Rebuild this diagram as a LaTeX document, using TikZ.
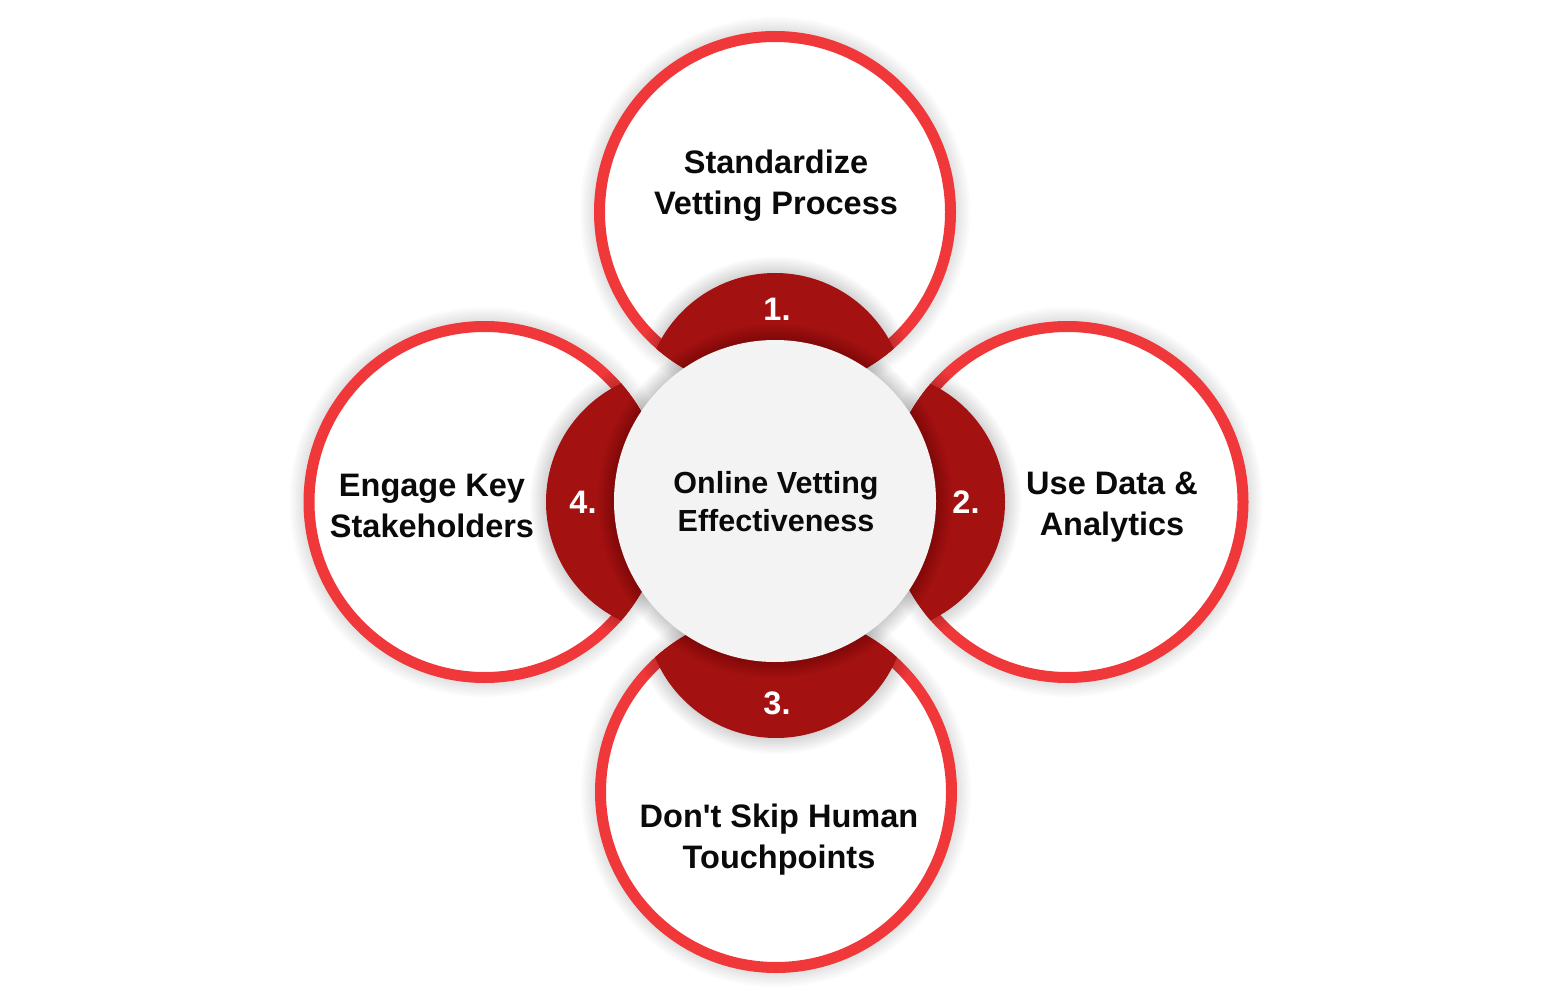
\documentclass[tikz,border=0pt]{standalone}
\usepackage{fontspec}
\setmainfont{Liberation Sans}
\definecolor{ringred}{RGB}{240,56,58}
\definecolor{darkred}{RGB}{163,17,17}
\definecolor{centerfill}{RGB}{243,243,243}
\definecolor{txt}{RGB}{10,10,10}
\newcommand{\mysoftshadow}[5]{% center, radius, offset, opacity, start
  \foreach \k in {1,...,12}{%
    \fill[black, opacity=#4, shift={(#3/3,#3)}] (#1) circle[radius={#2-#5+2*\k}];
  }%
}
\tikzset{
  ringcircle/.style={fill=white, draw=ringred, line width=11pt},
  label/.style={text=txt, align=center, font=\fontsize{32.5}{41}\selectfont\bfseries},
  centerlabel/.style={text=txt, align=center, font=\fontsize{30.5}{38}\selectfont\bfseries},
  numlabel/.style={text=white, font=\fontsize{32.5}{40}\selectfont\bfseries},
}
\begin{document}
\begin{tikzpicture}[x=1pt,y=-1pt]
\useasboundingbox[fill=white] (0,0) rectangle (1552,1008);
% centres
\coordinate (cM) at (775,501);
\coordinate (cT) at (775,212);
\coordinate (cB) at (776,792);
\coordinate (cL) at (484.5,502);
\coordinate (cR) at (1067.5,502);
\coordinate (dT) at (775,404);
\coordinate (dB) at (776,607);
\coordinate (dL) at (677,502);
\coordinate (dR) at (874,502);
% outer shadows
\foreach \c in {cT,cB,cL,cR}{\mysoftshadow{\c}{181}{10}{0.017}{10}}
% outer circles
\foreach \c in {cT,cB,cL,cR}{\draw[ringcircle] (\c) circle[radius=175.5];}
% dark segments
\foreach \c/\d in {cT/dT,cB/dB,cL/dL,cR/dR}{
  \begin{scope}
    \clip (\c) circle[radius=181];
    \mysoftshadow{\d}{131}{7}{0.02}{8}
    \fill[darkred] (\d) circle[radius=131];
  \end{scope}
}
% main circle
\mysoftshadow{cM}{161}{7}{0.022}{8}
\fill[centerfill] (cM) circle[radius=161];
% texts
\node[label] (tT) at (776,186) {Standardize\\Vetting Process};
\node[label] (tR) at (1112,507) {Use Data \&\\Analytics};
\node[label] (tB) at (779,840) {Don\textquotesingle t Skip Human\\Touchpoints};
\node[label] (tL) at (432,506) {Engage Key\\Stakeholders};
\node[centerlabel] (tM) at (776,502) {Online Vetting\\Effectiveness};
\node[numlabel] (n1) at (777,309) {1.};
\node[numlabel] (n2) at (966,502) {2.};
\node[numlabel] (n3) at (777,703) {3.};
\node[numlabel] (n4) at (583,502) {4.};
\end{tikzpicture}
\end{document}
